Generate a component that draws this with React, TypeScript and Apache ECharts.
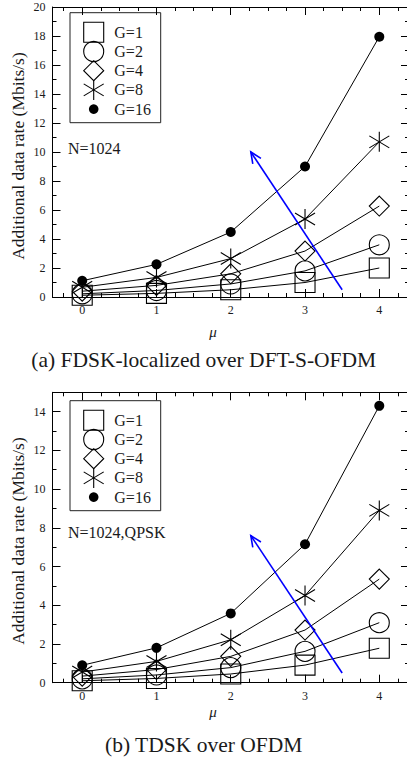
import React, { useEffect, useRef } from "react";
import * as echarts from "echarts";

// ---------- data ----------
const MU = [0, 1, 2, 3, 4];
const GROUPS = ["G=1", "G=2", "G=4", "G=8", "G=16"];

// (a) FDSK-localized over DFT-S-OFDM
const A_G1 = [0.12, 0.25, 0.5, 1.0, 2.0];
const A_G2 = [0.22, 0.45, 0.9, 1.8, 3.6];
const A_G4 = [0.4, 0.8, 1.6, 3.17, 6.27];
const A_G8 = [0.67, 1.35, 2.65, 5.38, 10.7];
const A_G16 = [1.12, 2.25, 4.48, 9.0, 17.95];

// (b) TDSK over OFDM
const B_G1 = [0.1, 0.22, 0.45, 0.91, 1.78];
const B_G2 = [0.2, 0.4, 0.78, 1.62, 3.1];
const B_G4 = [0.34, 0.68, 1.36, 2.72, 5.35];
const B_G8 = [0.55, 1.1, 2.22, 4.5, 8.9];
const B_G16 = [0.9, 1.8, 3.58, 7.15, 14.3];

// arrows: [x0, y0, x1(tip), y1(tip)]
const A_ARROW = [3.5, 0.5, 2.27, 10];
const B_ARROW = [3.5, 0.5, 2.27, 7.6];

// axis ticks / labels
const X_MIN = -0.4;
const X_MAX = 4.4;
const X_MAJOR = [0, 1, 2, 3, 4];
const X_MINOR = [-0.25, 0.25, 0.5, 0.75, 1.25, 1.5, 1.75, 2.25, 2.5, 2.75, 3.25, 3.5, 3.75, 4.25];
const A_Y_MAX = 20;
const A_Y_MAJOR = [0, 2, 4, 6, 8, 10, 12, 14, 16, 18, 20];
const A_Y_MINOR = [1, 3, 5, 7, 9, 11, 13, 15, 17, 19];
const B_Y_MAX = 15;
const B_Y_MAJOR = [0, 2, 4, 6, 8, 10, 12, 14];
const B_Y_MINOR = [1, 3, 5, 7, 9, 11, 13];

const A_CAPTION = "(a) FDSK-localized over DFT-S-OFDM";
const B_CAPTION = "(b) TDSK over OFDM";
const A_NOTE = "N=1024";
const B_NOTE = "N=1024,QPSK";
const Y_NAME = "Additional data rate (Mbits/s)";
const X_NAME = "\u03bc";

// ---------- styles ----------
const FONT = "Liberation Serif";
const TXT = "#1a1a1a";
const STAR = "path://M10 0 L10 20 M0 4 L20 16 M0 16 L20 4";
const SYMBOLS = ["rect", "circle", "diamond", STAR, "circle"];
const SIZES = [20, 20, 20, 20, 10];

function xAxis(gridIndex: number, position: string, ticks: number[], len: number, showLine: boolean, showLabel: boolean) {
  return {
    type: "value",
    gridIndex,
    position,
    min: X_MIN,
    max: X_MAX,
    axisLine: { show: showLine, onZero: false, lineStyle: { color: "#000", width: 1 } },
    axisTick: { show: true, inside: true, length: len, customValues: ticks, lineStyle: { color: "#000", width: 1 } },
    axisLabel: showLabel
      ? { show: true, customValues: ticks, fontFamily: FONT, fontSize: 12, color: TXT, margin: 7 }
      : { show: false },
    splitLine: { show: false },
  };
}

function yAxis(gridIndex: number, position: string, max: number, ticks: number[], len: number, showLine: boolean, showLabel: boolean) {
  return {
    type: "value",
    gridIndex,
    position,
    min: 0,
    max,
    axisLine: { show: showLine, onZero: false, lineStyle: { color: "#000", width: 1 } },
    axisTick: { show: true, inside: true, length: len, customValues: ticks, lineStyle: { color: "#000", width: 1 } },
    axisLabel: showLabel
      ? { show: true, customValues: ticks, fontFamily: FONT, fontSize: 12, color: TXT, margin: 7 }
      : { show: false },
    splitLine: { show: false },
  };
}

function lineSeries(name: string, values: number[], idx: number, axisBase: number) {
  const filled = idx === 4;
  return {
    type: "line",
    name,
    xAxisIndex: axisBase,
    yAxisIndex: axisBase,
    data: MU.map((m, i) => [m, values[i]]),
    symbol: SYMBOLS[idx],
    symbolSize: SIZES[idx],
    showAllSymbol: true,
    clip: false,
    lineStyle: { color: "#000", width: 1 },
    itemStyle: filled
      ? { color: "#000", borderColor: "#000", borderWidth: 0 }
      : { color: "rgba(0,0,0,0)", borderColor: "#000", borderWidth: 1.1 },
    emphasis: { disabled: true },
    z: 3,
  };
}

function arrowSeries(arrow: number[], axisBase: number) {
  return {
    type: "custom",
    xAxisIndex: axisBase,
    yAxisIndex: axisBase,
    clip: false,
    data: [arrow],
    encode: { x: [0, 2], y: [1, 3] },
    renderItem: (params: any, api: any) => {
      const p0 = api.coord([api.value(0), api.value(1)]);
      const p1 = api.coord([api.value(2), api.value(3)]);
      const ang = Math.atan2(p0[1] - p1[1], p0[0] - p1[0]);
      const L = 12;
      const spread = 0.42;
      const w1 = [p1[0] + L * Math.cos(ang + spread), p1[1] + L * Math.sin(ang + spread)];
      const w2 = [p1[0] + L * Math.cos(ang - spread), p1[1] + L * Math.sin(ang - spread)];
      const style = { stroke: "#0000ff", lineWidth: 1.6, fill: "none" };
      return {
        type: "group",
        children: [
          { type: "line", shape: { x1: p0[0], y1: p0[1], x2: p1[0], y2: p1[1] }, style },
          { type: "polyline", shape: { points: [w1, p1, w2] }, style },
        ],
      };
    },
    z: 4,
  };
}

function legendGraphic(left: number, top: number) {
  const children: any[] = [
    { type: "rect", shape: { x: 0, y: 0, width: 90.7, height: 110 }, style: { fill: "#fff", stroke: "#222", lineWidth: 1 } },
  ];
  const sx = 23.7;
  GROUPS.forEach((g, i) => {
    const cy = 19.6 + i * 19.2;
    const st = { stroke: "#000", lineWidth: 1.1, fill: "none" };
    if (i === 0) children.push({ type: "rect", shape: { x: sx - 10, y: cy - 10, width: 20, height: 20 }, style: st });
    if (i === 1) children.push({ type: "circle", shape: { cx: sx, cy, r: 10 }, style: st });
    if (i === 2)
      children.push({ type: "polygon", shape: { points: [[sx, cy - 10], [sx + 10, cy], [sx, cy + 10], [sx - 10, cy]] }, style: st });
    if (i === 3) {
      children.push({ type: "line", shape: { x1: sx, y1: cy - 10, x2: sx, y2: cy + 10 }, style: st });
      children.push({ type: "line", shape: { x1: sx - 10, y1: cy - 6, x2: sx + 10, y2: cy + 6 }, style: st });
      children.push({ type: "line", shape: { x1: sx - 10, y1: cy + 6, x2: sx + 10, y2: cy - 6 }, style: st });
    }
    if (i === 4) children.push({ type: "circle", shape: { cx: sx, cy, r: 4.8 }, style: { fill: "#000" } });
    children.push({
      type: "text",
      x: 44.3,
      y: cy,
      style: { text: g, fontFamily: FONT, fontSize: 16, fill: TXT, textAlign: "left", textVerticalAlign: "middle" },
    });
  });
  return { type: "group", x: left, y: top, children, z: 10 };
}

function textG(text: string, x: number, y: number, size: number, align: string, extra: any = {}) {
  return {
    type: "text",
    x,
    y,
    z: 10,
    ...extra,
    style: { text, fontFamily: FONT, fontSize: size, fill: TXT, textAlign: align, textVerticalAlign: "middle", ...(extra.style || {}) },
  };
}

export default function App() {
  const ref = useRef<HTMLDivElement>(null);
  useEffect(() => {
    if (!ref.current) return;
    const chart = echarts.init(ref.current, undefined, { renderer: "svg" });
    const gridW = 356.5;
    const option: any = {
      animation: false,
      backgroundColor: "#fff",
      textStyle: { fontFamily: FONT },
      grid: [
        { left: 52.5, top: 7, width: gridW, height: 290, outerBoundsMode: "none" },
        { left: 52.5, top: 392.3, width: gridW, height: 290.4, outerBoundsMode: "none" },
      ],
      xAxis: [
        xAxis(0, "bottom", X_MAJOR, 8, true, true),
        xAxis(0, "bottom", X_MINOR, 4, false, false),
        xAxis(0, "top", X_MAJOR, 8, true, false),
        xAxis(0, "top", X_MINOR, 4, false, false),
        xAxis(1, "bottom", X_MAJOR, 8, true, true),
        xAxis(1, "bottom", X_MINOR, 4, false, false),
        xAxis(1, "top", X_MAJOR, 8, true, false),
        xAxis(1, "top", X_MINOR, 4, false, false),
      ],
      yAxis: [
        yAxis(0, "left", A_Y_MAX, A_Y_MAJOR, 8, true, true),
        yAxis(0, "left", A_Y_MAX, A_Y_MINOR, 4, false, false),
        yAxis(0, "right", A_Y_MAX, A_Y_MAJOR, 8, true, false),
        yAxis(0, "right", A_Y_MAX, A_Y_MINOR, 4, false, false),
        yAxis(1, "left", B_Y_MAX, B_Y_MAJOR, 8, true, true),
        yAxis(1, "left", B_Y_MAX, B_Y_MINOR, 4, false, false),
        yAxis(1, "right", B_Y_MAX, B_Y_MAJOR, 8, true, false),
        yAxis(1, "right", B_Y_MAX, B_Y_MINOR, 4, false, false),
      ],
      series: [
        ...[A_G1, A_G2, A_G4, A_G8, A_G16].map((v, i) => lineSeries(GROUPS[i], v, i, 0)),
        ...[B_G1, B_G2, B_G4, B_G8, B_G16].map((v, i) => lineSeries(GROUPS[i], v, i, 4)),
        arrowSeries(A_ARROW, 0),
        arrowSeries(B_ARROW, 4),
      ],
      graphic: [
        legendGraphic(70, 12.7),
        legendGraphic(70, 400.7),
        textG(A_NOTE, 68, 148, 16, "left"),
        textG(B_NOTE, 68, 532.7, 16, "left"),
        textG(Y_NAME, 18, 156, 17.5, "center", { rotation: Math.PI / 2 }),
        textG(Y_NAME, 18, 541, 17.5, "center", { rotation: Math.PI / 2 }),
        textG(X_NAME, 213, 332, 15, "center", { style: { fontStyle: "italic" } }),
        textG(X_NAME, 213, 711.7, 15, "center", { style: { fontStyle: "italic" } }),
        textG(A_CAPTION, 203.7, 360, 21.5, "center"),
        textG(B_CAPTION, 203.7, 745, 21.5, "center"),
      ],
    };
    chart.setOption(option);
    return () => chart.dispose();
  }, []);
  return (
    <div
      ref={ref}
      style={{ position: "fixed", left: 0, top: 0, width: 407, height: 759, background: "#fff" }}
    />
  );
}
